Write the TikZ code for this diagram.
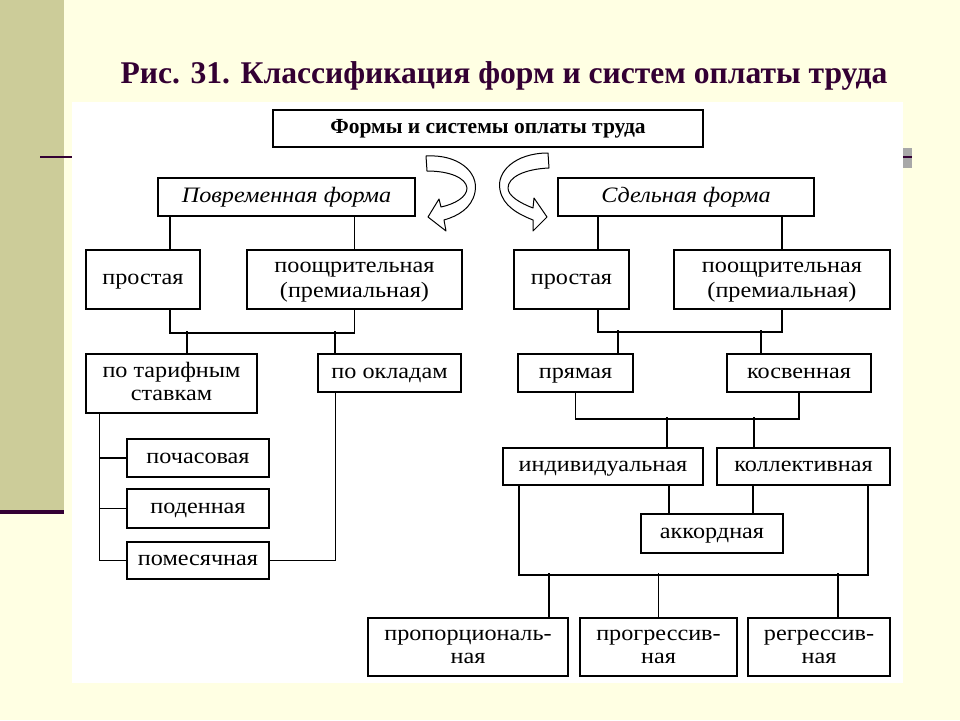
\documentclass[tikz,border=0pt]{standalone}
\usepackage{fontspec}
\setmainfont{Liberation Serif}
\newfontfamily\bxf[FakeStretch=1.1]{Liberation Serif}
\usetikzlibrary{calc}
\definecolor{cream}{HTML}{FFFFE3}
\definecolor{olivebar}{HTML}{CCCC99}
\definecolor{plum}{HTML}{330033}
\definecolor{grayblk}{HTML}{A8A8A8}
\newcommand\twol[2]{\vbox{\halign{\hfil##\hfil\cr#1\cr#2\cr}}}
\begin{document}
\begin{tikzpicture}[x=1pt,y=-1pt,
  box/.style={draw=black, line width=1.5pt, fill=white, inner sep=0pt,
    font=\bxf\fontsize{22}{23}\selectfont, text height=10.1pt, text depth=0pt},
  boxtwo/.style={box, text height=33.1pt},
  boxpoo/.style={box, font=\bxf\fontsize{22}{25}\selectfont, text height=35.1pt},
  itbox/.style={box, font=\bxf\fontsize{22}{24}\selectfont\itshape},
  bfbox/.style={box, font=\fontsize{21.5}{24}\selectfont\bfseries, text height=9.8pt},
  conn/.style={line width=1.5pt, draw=black},
  curvarrow/.style={draw=black, fill=white, line width=1pt, line join=round}]
% background
\fill[cream] (0,0) rectangle (960,720);
\useasboundingbox (0,0) rectangle (960,720);
\fill[olivebar] (0,0) rectangle (64,510);
\fill[plum] (0,510) rectangle (64,514);
\fill[grayblk] (903,148) rectangle (912,168);
\draw[plum, line width=2.5pt] (40,157) -- (912,157);
\fill[white] (72,102) rectangle (903,683);
% title
\node[anchor=base, text=plum, font=\fontsize{31.6}{33}\selectfont\bfseries] (title) at (504,83)
  {Рис. 31. Классификация форм и систем оплаты труда};
% nodes
\node[bfbox, minimum width=430pt, minimum height=37pt] (top) at (488,128.5) {Формы и системы оплаты труда};
\node[itbox, minimum width=257pt, minimum height=38pt] (pov) at (286.5,197) {Повременная форма};
\node[itbox, minimum width=256pt, minimum height=38pt] (sdel) at (686,197) {Сдельная форма};
\node[box, minimum width=114pt, minimum height=59pt] (lprost) at (143,279.5) {простая};
\node[boxpoo, minimum width=215pt, minimum height=59pt] (lpoosh) at (354.5,279.5) {\twol{поощрительная}{(премиальная)}};
\node[boxtwo, minimum width=171pt, minimum height=59pt] (tarif) at (171.5,383.5) {\twol{по тарифным}{ставкам}};
\node[box, minimum width=143pt, minimum height=38pt] (oklad) at (389.5,373) {по окладам};
\node[box, minimum width=142pt, minimum height=38pt] (pochas) at (198,458) {почасовая};
\node[box, minimum width=142pt, minimum height=39pt] (podenn) at (198,508.5) {поденная};
\node[box, minimum width=142pt, minimum height=37pt] (pomes) at (198,560.5) {помесячная};
\node[box, minimum width=115pt, minimum height=59pt] (rprost) at (571.5,279.5) {простая};
\node[boxpoo, minimum width=216pt, minimum height=59pt] (rpoosh) at (782,279.5) {\twol{поощрительная}{(премиальная)}};
\node[box, minimum width=115pt, minimum height=38pt] (pryam) at (575.5,373) {прямая};
\node[box, minimum width=144pt, minimum height=38pt] (kosv) at (799,373) {косвенная};
\node[box, minimum width=200pt, minimum height=37pt] (indiv) at (603,466.5) {индивидуальная};
\node[box, minimum width=173pt, minimum height=37pt] (koll) at (803.5,466.5) {коллективная};
\node[box, minimum width=142pt, minimum height=39pt] (akkord) at (712,533.5) {аккордная};
\node[boxtwo, minimum width=200pt, minimum height=58pt] (prop) at (468,647) {\twol{пропорциональ-}{ная}};
\node[boxtwo, minimum width=157pt, minimum height=58pt] (progr) at (658.5,647) {\twol{прогрессив-}{ная}};
\node[boxtwo, minimum width=142pt, minimum height=58pt] (regr) at (819,647) {\twol{регрессив-}{ная}};
% curved arrows
\path[curvarrow] (426,156) .. controls (458,154) and (479,172) .. (475,192)
  .. controls (472,208) and (458,216) .. (444,220) -- (446,231) -- (428,217) -- (439,199) -- (441,207)
  .. controls (455,204) and (467,197) .. (467,188) .. controls (466,178) and (450,171) .. (427,171) -- cycle;
\path[curvarrow] (548,153) .. controls (515,153) and (496,172) .. (500,190)
  .. controls (503,206) and (518,214) .. (533,220) -- (533,231) -- (547,217) -- (534,198) -- (533,208)
  .. controls (520,203) and (508,196) .. (508,188) .. controls (508,177) and (525,169) .. (549,168) -- cycle;
% left connectors
\draw[conn] ([xshift=27pt]lprost.north) -- ([xshift=27pt]lprost.north |- pov.south);
\draw[conn] (lpoosh.north) -- (lpoosh.north |- pov.south);
\draw[conn] ([xshift=27pt]lprost.south) -- ++(0,23) -| (lpoosh.south);
\draw[conn] ([xshift=15.5pt]tarif.north) -- ++(0,-22);
\draw[conn] ([xshift=-54.5pt]oklad.north) -- ++(0,-22);
\draw[conn] ([xshift=14pt]tarif.south west) |- (pomes.west);
\draw[conn] (pochas.west) -- ++(-27,0);
\draw[conn] (podenn.west) -- ++(-27,0);
\draw[conn] (pomes.east) -| ([xshift=-54pt]oklad.south);
% right connectors
\draw[conn] ([xshift=26.5pt]rprost.north) -- ([xshift=26.5pt]rprost.north |- sdel.south);
\draw[conn] (rpoosh.north) -- (rpoosh.north |- sdel.south);
\draw[conn] ([xshift=26.5pt]rprost.south) -- ++(0,22) -| (rpoosh.south);
\draw[conn] ([xshift=42.5pt]pryam.north) -- ++(0,-23);
\draw[conn] ([xshift=-38pt]kosv.north) -- ++(0,-23);
\draw[conn] (pryam.south) -- ++(0,26) -| (kosv.south);
\draw[conn] ([xshift=64pt]indiv.north) -- ++(0,-30);
\draw[conn] ([xshift=-49.5pt]koll.north) -- ++(0,-30);
\draw[conn] ([xshift=66pt]indiv.south) -- ([xshift=66pt]indiv.south |- akkord.north);
\draw[conn] ([xshift=-50.5pt]koll.south) -- ([xshift=-50.5pt]koll.south |- akkord.north);
\draw[conn] ([xshift=-84pt]indiv.south) -- ++(0,89) -| ([xshift=64.5pt]koll.south);
\draw[conn] ([xshift=81pt]prop.north) -- ++(0,-44);
\draw[conn] (progr.north) -- ++(0,-44);
\draw[conn] ([xshift=19pt]regr.north) -- ++(0,-44);
\end{tikzpicture}
\end{document}
